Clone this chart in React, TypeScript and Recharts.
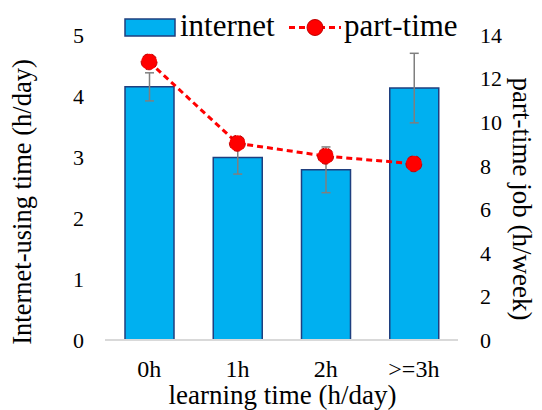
import {
  ComposedChart,
  Bar,
  Line,
  XAxis,
  YAxis,
  ErrorBar,
} from "recharts";

const categories = ["0h", "1h", "2h", ">=3h"];
const internetHours = [4.15, 2.99, 2.79, 4.13];
const internetErr = [0.23, 0.27, 0.375, 0.57];
const partTimeHours = [12.77, 9.03, 8.44, 8.09];
const leftTicks = [0, 1, 2, 3, 4, 5];
const rightTicks = [0, 2, 4, 6, 8, 10, 12, 14];

const data = categories.map((c, i) => ({
  name: c,
  internet: internetHours[i],
  err: internetErr[i],
  parttime: partTimeHours[i],
}));

const FONT = "Liberation Serif";
const BAR_FILL = "#00B0F0";
const BAR_STROKE = "#1F3F7F";
const RED = "#FF0000";

// legend drawn on top of the chart so it doesn't push the plot area down
function LegendBox() {
  return (
    <svg
      width={542}
      height={46}
      style={{ position: "absolute", left: 0, top: 0, pointerEvents: "none" }}
    >
      <rect x={125} y={19} width={50} height={17} fill={BAR_FILL} stroke={BAR_STROKE} strokeWidth={1.5} />
      <text x={180} y={36} fontFamily={FONT} fontSize={31} fill="#000">
        internet
      </text>
      <line x1={289} y1={27.5} x2={341} y2={27.5} stroke={RED} strokeWidth={3} strokeDasharray="6 4" />
      <circle cx={315} cy={27.5} r={8} fill={RED} stroke="#C00000" strokeWidth={1} />
      <text x={344} y={36} fontFamily={FONT} fontSize={31} fill="#000">
        part-time
      </text>
    </svg>
  );
}

export default function App() {
  return (
    <div
      style={{
        position: "absolute",
        left: 0,
        top: 0,
        width: 542,
        height: 410,
        background: "#fff",
        fontFamily: FONT,
      }}
    >
      <ComposedChart
        width={542}
        height={410}
        data={data}
        margin={{ top: 35, right: 0, bottom: 0, left: 0 }}
        style={{ fontFamily: FONT }}
      >
        <XAxis
          dataKey="name"
          height={70}
          tickLine={false}
          tickSize={0}
          tickMargin={20}
          fontFamily={FONT}
          fontSize={24}
          axisLine={{ stroke: "#D9D9D9", strokeWidth: 2 }}
          tick={{ fill: "#000", fontSize: 24, fontFamily: FONT }}
          label={{
            content: () => (
              <text x={282.5} y={404} textAnchor="middle" fontFamily={FONT} fontSize={27} fill="#000">
                learning time (h/day)
              </text>
            ),
          }}
        />
        <YAxis
          yAxisId="left"
          width={105}
          domain={[0, 5]}
          ticks={leftTicks}
          axisLine={false}
          tickLine={false}
          tickSize={0}
          tickMargin={21}
          fontFamily={FONT}
          fontSize={22}
          tick={{ fill: "#000", fontSize: 22, fontFamily: FONT }}
          label={{
            content: () => (
              <text
                x={22}
                y={202}
                transform="rotate(-90 22 202)"
                textAnchor="middle"
                dominantBaseline="central"
                fontFamily={FONT}
                fontSize={26.5}
                fill="#000"
              >
                Internet-using time (h/day)
              </text>
            ),
          }}
        />
        <YAxis
          yAxisId="right"
          orientation="right"
          width={84}
          domain={[0, 14]}
          ticks={rightTicks}
          axisLine={false}
          tickLine={false}
          tickSize={0}
          tickMargin={22}
          fontFamily={FONT}
          fontSize={22}
          tick={{ fill: "#000", fontSize: 22, fontFamily: FONT }}
          label={{
            content: () => (
              <text
                x={522}
                y={199}
                transform="rotate(90 522 199)"
                textAnchor="middle"
                dominantBaseline="central"
                fontFamily={FONT}
                fontSize={27}
                fill="#000"
              >
                part-time job (h/week)
              </text>
            ),
          }}
        />
        <Bar
          yAxisId="left"
          dataKey="internet"
          barSize={49}
          fill={BAR_FILL}
          stroke={BAR_STROKE}
          strokeWidth={1.5}
          isAnimationActive={false}
        >
          <ErrorBar dataKey="err" width={4.5} stroke="#7F7F7F" strokeWidth={1.5} />
        </Bar>
        <Line
          yAxisId="right"
          dataKey="parttime"
          stroke={RED}
          strokeWidth={3}
          strokeDasharray="6 4"
          dot={{ r: 8, fill: RED, stroke: "#C00000", strokeWidth: 1 }}
          activeDot={false}
          isAnimationActive={false}
        />
      </ComposedChart>
      <LegendBox />
    </div>
  );
}
